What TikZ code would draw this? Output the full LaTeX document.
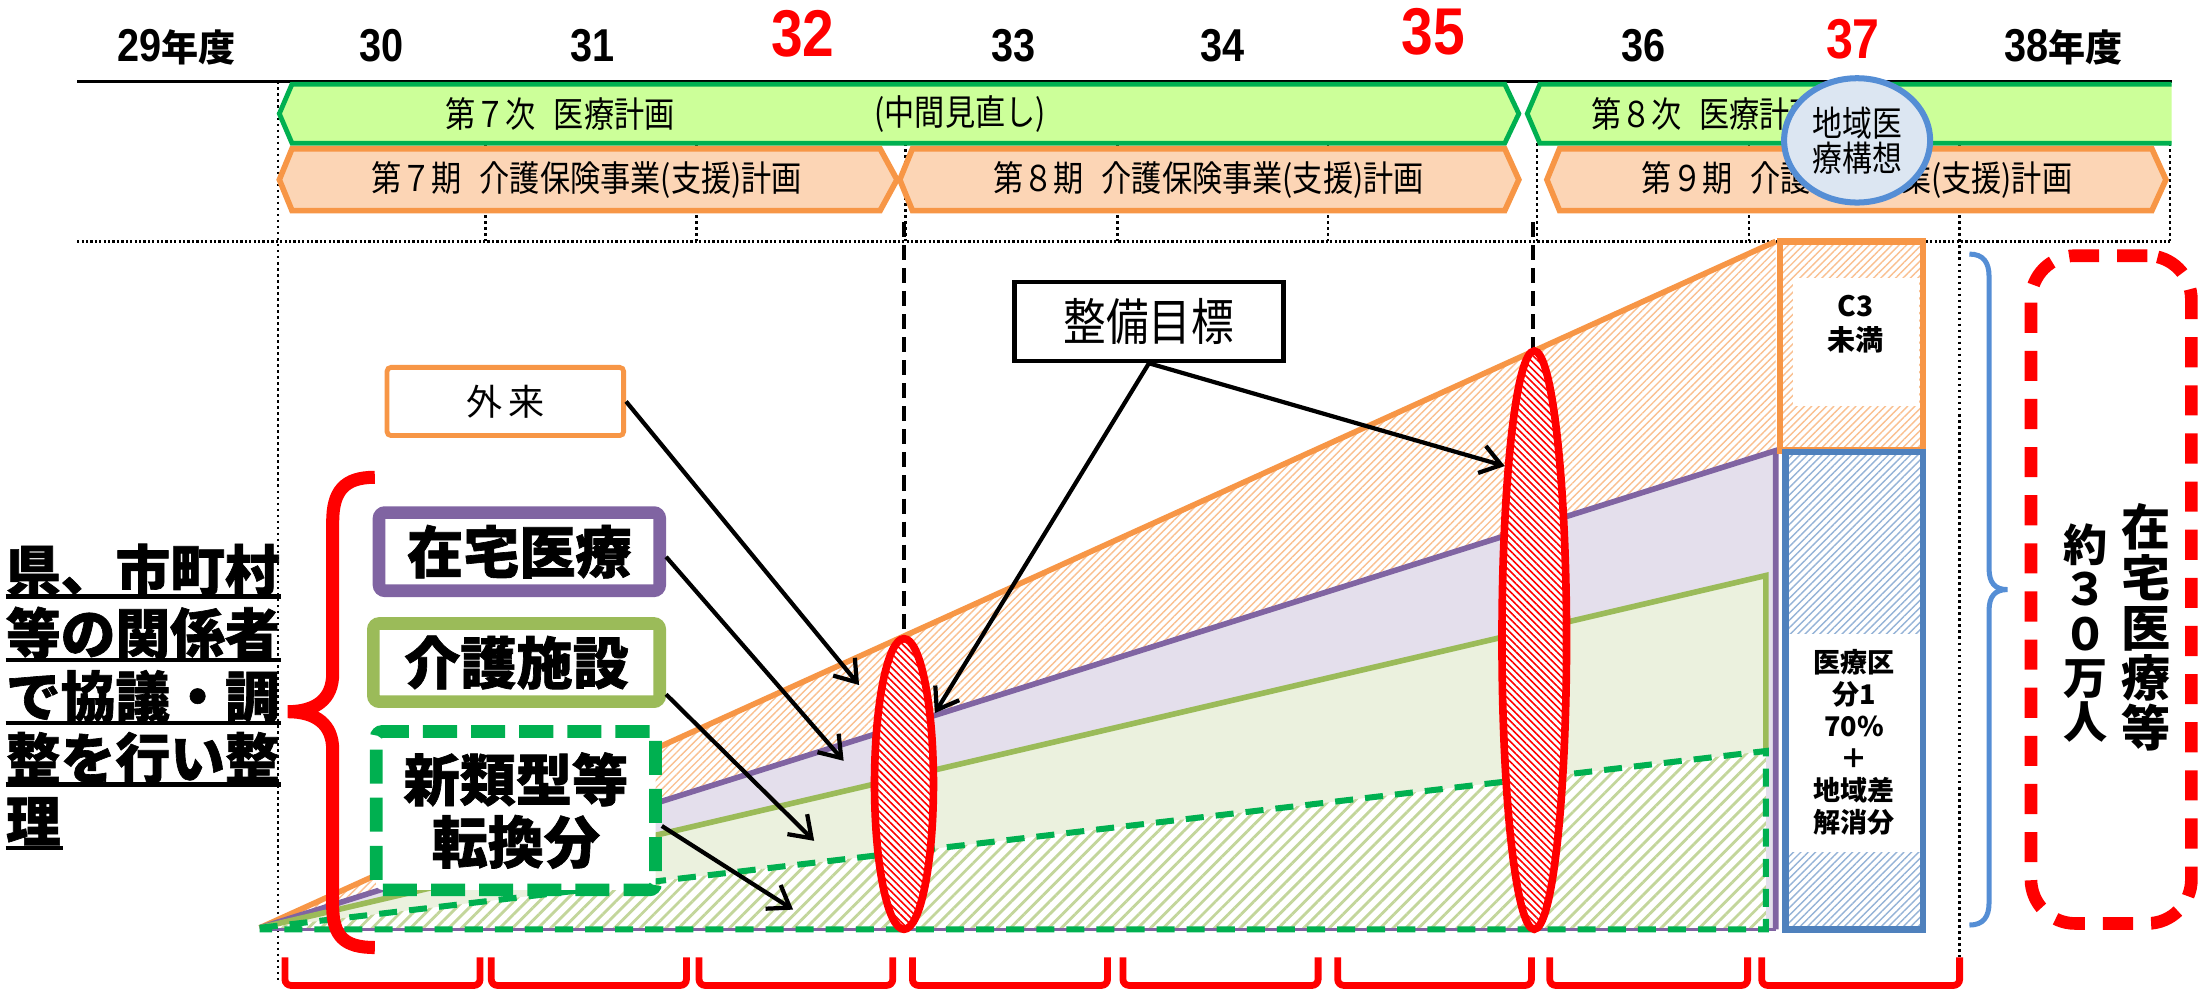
\documentclass[tikz,border=0pt]{standalone}
\usepackage{fontspec}
\usetikzlibrary{shapes.geometric,arrows.meta,patterns.meta,calc}
\newfontfamily\jp{Noto Sans CJK JP}
\newfontfamily\jph{Noto Sans CJK JP}[FakeBold=1.2]
\newfontfamily\jpc{Noto Sans CJK JP}[FakeStretch=0.85]
\newfontfamily\numf{Liberation Sans}[FakeStretch=0.86]
\newcommand\mynendo{\jp\bfseries\fontsize{18.5}{20}\selectfont}
\definecolor{cOr}{HTML}{F79646}
\definecolor{cOrF}{HTML}{FCD5B5}
\definecolor{cOrH}{HTML}{FAC090}
\definecolor{cGrB}{HTML}{00B050}
\definecolor{cGrF}{HTML}{CCFF99}
\definecolor{cPu}{HTML}{8064A2}
\definecolor{cPuF}{HTML}{E4DFEC}
\definecolor{cOl}{HTML}{9BBB59}
\definecolor{cOlF}{HTML}{EBF1DE}
\definecolor{cOlH}{HTML}{C3D69B}
\definecolor{cBl}{HTML}{4F81BD}
\definecolor{cBlH}{HTML}{95B3D7}
\definecolor{cCi}{HTML}{558ED5}
\definecolor{cCiF}{HTML}{DCE6F2}
\definecolor{cRed}{HTML}{FF0000}
\begin{document}
\begin{tikzpicture}[x=0.7pt,y=-0.7pt,
  vdot/.style={line width=1.3pt, dash pattern=on 1.3pt off 1.7pt},
  hdot/.style={line width=1.6pt, dash pattern=on 1.1pt off 1.1pt},
  gband/.style={fill=cGrF, draw=cGrB, line width=2.4pt},
  oband/.style={fill=cOrF, draw=cOr, line width=2.8pt},
  bandtxt/.style={font=\jpc\fontsize{17.7}{18}\selectfont, inner sep=0},
  yr/.style={anchor=base, inner sep=0, font=\numf\bfseries\fontsize{23}{24}\selectfont},
  yrred/.style={anchor=base, inner sep=0, text=cRed, font=\numf\bfseries\fontsize{33}{34}\selectfont},
  chartline/.style={line width=2.8pt},
  hatchO/.style={pattern={Lines[angle=45,distance=2.6pt,line width=0.7pt]}, pattern color=cOrH},
  hatchG/.style={pattern={Lines[angle=45,distance=4.5pt,line width=1.4pt]}, pattern color=cOlH},
  hatchB/.style={pattern={Lines[angle=45,distance=2.6pt,line width=0.7pt]}, pattern color=cBlH},
  redell/.style={ellipse, draw=cRed, line width=3.8pt, inner sep=0, preaction={fill=white}, pattern={Lines[angle=-45,distance=2.4pt,line width=0.8pt]}, pattern color=cRed},
  bdash/.style={line width=1.9pt, dash pattern=on 7.5pt off 4pt},
  lbox/.style={inner sep=0, fill=white, rounded corners=3pt, line width=6.3pt, font=\jph\bfseries\fontsize{28}{31}\selectfont, align=center},
  arr/.style={line width=2.1pt, -{Straight Barb[length=10pt,width=14pt,line width=2.1pt]}},
  ltxt/.style={anchor=west, inner sep=0, font=\jph\bfseries\fontsize{27.3}{30}\selectfont},
  uline/.style={line width=2.2pt},
  boxtxt/.style={align=center, inner sep=0, font=\jp\bfseries\fontsize{13.5}{16}\selectfont},
  rbr/.style={draw=cRed, line width=3.4pt, rounded corners=3pt}
]
\useasboundingbox (0,0) rectangle (1568,708.1);
\fill[white] (0,0) rectangle (1568,708.1);

% dotted grid lines
\foreach \x in {346,496,645,796,946,1095,1246,1546} {\draw[vdot] (\x,102) -- (\x,172);}
\draw[vdot] (198,58) -- (198,700);
\draw[vdot] (1396,102) -- (1396,682);
\draw[line width=1.5pt] (55,58) -- (1547,58);

% medical plan bands
\path[gband] (199,81) -- (208,60) -- (1072,60) -- (1082,81) -- (1072,102) -- (208,102) -- cycle;
\fill[cGrF] (1088,81) -- (1097,60) -- (1547,60) -- (1547,102) -- (1097,102) -- cycle;
\draw[draw=cGrB, line width=2.4pt] (1547,60) -- (1097,60) -- (1088,81) -- (1097,102) -- (1547,102);
% care plan bands
\path[oband] (199,128) -- (208,106) -- (627,106) -- (639,128) -- (627,150) -- (208,150) -- cycle;
\path[oband] (641,128) -- (650,106) -- (1072,106) -- (1082,128) -- (1072,150) -- (650,150) -- cycle;
\path[oband] (1102,128) -- (1111,106) -- (1533,106) -- (1543,128) -- (1533,150) -- (1111,150) -- cycle;

\node[bandtxt] (t7) at (399,81) {第７次\hspace{0.5em}医療計画};
\node[bandtxt] (t7m) at (684,81) {(中間見直し)};
\node[bandtxt] (t8) at (1215,81) {第８次\hspace{0.5em}医療計画};
\node[bandtxt] (k7) at (418,128) {第７期\hspace{0.5em}介護保険事業(支援)計画};
\node[bandtxt] (k8) at (861,128) {第８期\hspace{0.5em}介護保険事業(支援)計画};
\node[bandtxt] (k9) at (1323,128) {第９期\hspace{0.5em}介護保険事業(支援)計画};

\node[ellipse, draw=cCi, fill=cCiF, line width=3pt, minimum width=72.8pt, minimum height=62pt, inner sep=0, align=center, font=\jpc\fontsize{17.5}{17.5}\selectfont] (kousou) at (1323,100) {地域医\\療構想};

% years
\node[yr] (y29) at (126,44) {29{\mynendo 年度}};
\node[yr] (y30) at (272,44) {30};
\node[yr] (y31) at (422,44) {31};
\node[yrred] (y32) at (572,40) {32};
\node[yr] (y33) at (722,44) {33};
\node[yr] (y34) at (871,44) {34};
\node[yrred] (y35) at (1021,39) {35};
\node[yr] (y36) at (1171,44) {36};
\node[yrred, font=\numf\bfseries\fontsize{28}{29}\selectfont] (y37) at (1320,41.5) {37};
\node[yr] (y38) at (1470,44) {38{\mynendo 年度}};

\draw[hdot] (55,172) -- (1546,172);

% chart areas
\fill[white] (185,661) -- (1265,172) -- (1265,321) -- cycle;
\fill[hatchO] (185,661) -- (1265,172) -- (1265,321) -- cycle;
\fill[cPuF] (185,661) -- (1265,321) -- (1265,662) -- (185,662) -- cycle;
\fill[cOlF] (185,661) -- (1258,410) -- (1258,662) -- cycle;
\fill[white] (185,661) -- (1258,535) -- (1258,662) -- cycle;
\fill[hatchG] (185,661) -- (1258,535) -- (1258,662) -- cycle;
\draw[cOr, chartline] (185,661) -- (1265,172);
\draw[cPu, chartline] (185,661) -- (1265,321) -- (1265,662);
\draw[cPu, line width=1.6pt] (185,662) -- (1265,662);
\draw[cOl, chartline] (185,661) -- (1258,410) -- (1258,535);
\draw[cGrB, line width=3pt, dash pattern=on 9pt off 6pt] (185,661) -- (1258,535) -- (1258,662) -- (185,662);

% right column
\fill[white] (1268,172) rectangle (1370,321);
\fill[hatchO] (1268,172) rectangle (1370,321);
\fill[white] (1277,198) rectangle (1367,289);
\draw[cOr, line width=3.3pt] (1268,172) rectangle (1370,321);
\node[boxtxt, font=\jp\bfseries\fontsize{14}{17}\selectfont] (c3) at (1322,231) {C3\\未満};
\fill[white] (1272,322) rectangle (1370,662);
\fill[hatchB] (1272,322) rectangle (1370,662);
\fill[white] (1274,452) rectangle (1368,607);
\draw[cBl, line width=3.3pt] (1272,322) rectangle (1370,662);
\node[boxtxt] (kubun) at (1321,529) {医療区\\分1\\70\%\\＋\\地域差\\解消分};

% target markers
\draw[bdash] (644,158) -- (644,455);
\draw[bdash] (1092,158) -- (1092,250);
\node[redell, minimum width=29.4pt, minimum height=144.9pt] (e1) at (644,558.5) {};
\node[redell, minimum width=32.2pt, minimum height=288.4pt] (e2) at (1093,456) {};

% label boxes
\node[inner sep=0, draw=cOr, line width=2.4pt, rounded corners=2pt, fill=white, minimum width=118pt, minimum height=34pt, font=\jp\fontsize{18}{20}\selectfont] (gairai) at (360,286) {外\hspace{3pt}来};
\node[lbox, draw=cPu, minimum width=140pt, minimum height=39pt] (zaitaku) at (370,393) {在宅医療};
\node[lbox, draw=cOl, minimum width=142.8pt, minimum height=39pt] (kaigo) at (368,472) {介護施設};
\node[lbox, draw=cGrB, dash pattern=on 17pt off 7pt, minimum width=139.3pt, minimum height=79pt] (shinrui) at (367.5,577.5) {新類型等\\転換分};
\node[inner sep=0, draw=black, line width=2.2pt, fill=white, minimum width=134pt, minimum height=39.5pt, font=\jpc\fontsize{25}{26}\selectfont] (seibi) at (818.5,229) {整備目標};

\coordinate (tGai) at (612,488);
\coordinate (tZai) at (601,542);
\coordinate (tKai) at (580,599);
\coordinate (tShin) at (565,648);
\coordinate (tS1) at (666,508);
\coordinate (tS2) at (1072,332);
\draw[arr] (gairai.east) -- (tGai);
\draw[arr] (zaitaku.-2) -- (tZai);
\draw[arr] (kaigo.-12) -- (tKai);
\draw[arr] (shinrui.-6) -- (tShin);
\draw[arr] (seibi.south) -- (tS1);
\draw[arr] (seibi.south) -- (tS2);

% left text
\node[ltxt] (L1) at (4,406) {県、市町村};
\node[ltxt] (L2) at (4,451) {等の関係者};
\node[ltxt] (L3) at (4,496) {で協議・調};
\node[ltxt] (L4) at (4,540) {整を行い整};
\node[ltxt] (L5) at (4,585) {理};
\draw[uline] (4,425) -- (200,425);
\draw[uline] (4,470) -- (200,470);
\draw[uline] (4,515) -- (200,515);
\draw[uline] (4,559) -- (200,559);
\draw[uline] (4,604) -- (45,604);

% left red brace
\draw[cRed, line width=6.5pt] (267,340) .. controls (245,340) and (237,350) .. (237,372) -- (237,480) .. controls (237,498) and (225,507) .. (205,507) .. controls (225,507) and (237,516) .. (237,534) -- (237,645) .. controls (237,667) and (245,675) .. (267,675);

% right blue brace
\draw[cCi, line width=2.5pt] (1403,181) .. controls (1413,181) and (1417,187) .. (1417,197) -- (1417,405) .. controls (1417,415) and (1421,420) .. (1430,420) .. controls (1421,420) and (1417,425) .. (1417,435) -- (1417,643) .. controls (1417,653) and (1413,659) .. (1403,659);

% red dashed total box
\node[inner sep=0, draw=cRed, line width=6.3pt, dash pattern=on 15pt off 9pt, rounded corners=22pt, minimum width=80pt, minimum height=333pt] (zbox) at (1504,420) {};
\node[align=center, inner sep=0, font=\jp\bfseries\fontsize{24.5}{25}\selectfont] (vt1) at (1529,447) {在\\宅\\医\\療\\等};
\node[align=center, inner sep=0, font=\jp\bfseries\fontsize{22}{22}\selectfont] (vt2) at (1486,451) {約\\３\\０\\万\\人};

% bottom brackets
\foreach \a/\b in {203/342, 350/489, 498/636, 650/789, 800/939, 953/1091, 1104/1245, 1255/1396} {\draw[rbr] (\a,682) -- (\a,702) -- (\b,702) -- (\b,682);}
\end{tikzpicture}
\end{document}
